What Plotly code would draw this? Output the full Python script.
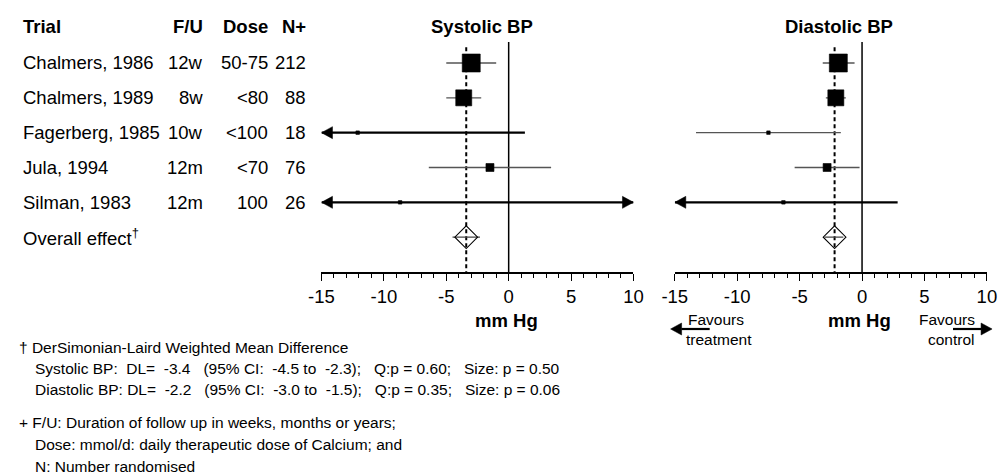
import plotly.graph_objects as go

W, H = 1005, 472

# ---- trial table ----
trials = ["Chalmers, 1986", "Chalmers, 1989", "Fagerberg, 1985", "Jula, 1994", "Silman, 1983"]
follow_up = ["12w", "8w", "10w", "12m", "12m"]
dose = ["50-75", "<80", "<100", "<70", "100"]
n_rand = [212, 88, 18, 76, 26]

# ---- systolic BP: mean difference and 95% CI (mm Hg) ----
sys_md = [-3.0, -3.6, -12.1, -1.5, -8.7]
sys_lo = [-5.0, -5.0, -25.5, -6.4, -28.0]
sys_hi = [-1.0, -2.2, 1.3, 3.4, 10.6]

# ---- diastolic BP: mean difference and 95% CI (mm Hg) ----
dia_md = [-1.9, -2.1, -7.5, -2.8, -6.3]
dia_lo = [-3.15, -2.9, -13.3, -5.4, -15.45]
dia_hi = [-0.6, -1.3, -1.7, -0.2, 2.85]

# ---- pooled DerSimonian-Laird estimates ----
sys_dl, sys_ci_lo, sys_ci_hi, sys_q_p, sys_size_p = -3.4, -4.5, -2.3, 0.60, 0.50
dia_dl, dia_ci_lo, dia_ci_hi, dia_q_p, dia_size_p = -2.2, -3.0, -1.5, 0.35, 0.06

x_ticks = [-15, -10, -5, 0, 5, 10]

# ---- styling ----
X_MIN, X_MAX = -15, 10
sys_box = [18, 16, 3.5, 8, 3.5]   # square side (px), proportional to weight
dia_box = [18, 16, 3.5, 8, 3.5]
FONT = "Liberation Sans, Arial, sans-serif"
BIG = 18.5
SMALL = 15.5


def px_x(p):
    return p / W


def px_y(p):
    return 1 - p / H


fig = go.Figure()
shapes = []
annotations = []

panels = [
    ("x", sys_md, sys_lo, sys_hi, sys_box, sys_dl, sys_ci_lo, sys_ci_hi, "Systolic BP", 480),
    ("x2", dia_md, dia_lo, dia_hi, dia_box, dia_dl, dia_ci_lo, dia_ci_hi, "Diastolic BP", 845),
]

rows = list(range(len(trials)))
overall_row = len(trials)

for xref, md, lo, hi, box, dl, clo, chi, title, title_x in panels:
    # no-effect line
    shapes.append(dict(type="line", xref=xref, yref="y", x0=0, x1=0, y0=-0.6, y1=overall_row + 1,
                       line=dict(color="black", width=1.5), layer="below"))
    # pooled estimate line
    shapes.append(dict(type="line", xref=xref, yref="y", x0=dl, x1=dl, y0=-0.45, y1=overall_row + 1,
                       line=dict(color="black", width=2, dash="4px,3px"), layer="below"))
    for i in rows:
        a = max(lo[i], X_MIN)
        b = min(hi[i], X_MAX)
        clipped = lo[i] < X_MIN or hi[i] > X_MAX
        fig.add_trace(go.Scatter(
            x=[a, b], y=[i, i], xaxis=xref, yaxis="y", mode="lines",
            line=dict(color="black" if clipped else "#555555", width=2.2 if clipped else 1.3),
            hoverinfo="skip", showlegend=False, cliponaxis=False))
        if lo[i] < X_MIN:
            shapes.append(dict(type="path", xref=xref, yref="y", xsizemode="pixel", ysizemode="pixel",
                               xanchor=X_MIN, yanchor=i, path="M0,0 L11,6 L11,-6 Z",
                               fillcolor="black", line=dict(color="black", width=0.5)))
        if hi[i] > X_MAX:
            shapes.append(dict(type="path", xref=xref, yref="y", xsizemode="pixel", ysizemode="pixel",
                               xanchor=X_MAX, yanchor=i, path="M0,0 L-11,6 L-11,-6 Z",
                               fillcolor="black", line=dict(color="black", width=0.5)))
    fig.add_trace(go.Scatter(
        x=md, y=rows, xaxis=xref, yaxis="y", mode="markers",
        marker=dict(symbol="square", size=box, color="black", opacity=1,
                    line=dict(width=0.6, color="black")),
        hoverinfo="skip", showlegend=False, cliponaxis=False))
    # pooled effect: CI line and diamond
    fig.add_trace(go.Scatter(
        x=[clo, chi], y=[overall_row, overall_row], xaxis=xref, yaxis="y", mode="lines",
        line=dict(color="#444444", width=1.3), hoverinfo="skip", showlegend=False))
    fig.add_trace(go.Scatter(
        x=[dl], y=[overall_row], xaxis=xref, yaxis="y", mode="markers",
        marker=dict(symbol="diamond-open", size=17.5, color="black", opacity=1, line=dict(width=1.1)),
        hoverinfo="skip", showlegend=False))
    annotations.append(dict(x=px_x(title_x), y=px_y(27), xref="paper", yref="paper",
                            text=f"<b>{title}</b>", showarrow=False, xanchor="center", yanchor="middle",
                            font=dict(family=FONT, size=BIG, color="black")))
    annotations.append(dict(x=-0.2, y=px_y(320), xref=xref, yref="paper", text="<b>mm Hg</b>",
                            showarrow=False, xanchor="center", yanchor="middle",
                            font=dict(family=FONT, size=BIG, color="black")))


# ---- table text ----
def tab(text, x, y, anchor, bold=False):
    annotations.append(dict(x=px_x(x), y=px_y(y), xref="paper", yref="paper",
                            text=f"<b>{text}</b>" if bold else text, showarrow=False,
                            xanchor=anchor, yanchor="middle",
                            font=dict(family=FONT, size=BIG, color="black")))


ROW_Y = [63, 97.8, 132.6, 167.4, 202.2, 237]
COL_TRIAL, COL_FU, COL_DOSE, COL_N = 8, 196, 263, 302
tab("Trial", COL_TRIAL, 27, "left", True)
tab("F/U", COL_FU, 27, "right", True)
tab("Dose", COL_DOSE, 27, "right", True)
tab("N+", COL_N, 27, "right", True)
for i in rows:
    tab(trials[i], COL_TRIAL, ROW_Y[i], "left")
    tab(follow_up[i], COL_FU, ROW_Y[i], "right")
    tab(dose[i], COL_DOSE, ROW_Y[i], "right")
    tab(str(n_rand[i]), COL_N, ROW_Y[i], "right")
tab("Overall effect<sup>†</sup>", COL_TRIAL, ROW_Y[overall_row], "left")


# ---- favours labels ----
def note(text, x, y, anchor="left", size=SMALL):
    annotations.append(dict(x=px_x(x), y=px_y(y), xref="paper", yref="paper", text=text,
                            showarrow=False, xanchor=anchor, yanchor="middle",
                            font=dict(family=FONT, size=size, color="black")))


note("Favours", 719, 319, "center")
note("treatment", 723, 339, "center")
note("Favours", 956, 319, "center")
note("control", 960, 339, "center")
for x0, x1, tip, path in [(713, 684, 673, "M0,0 L11,6 L11,-6 Z"),
                          (962, 991, 1002, "M0,0 L-11,6 L-11,-6 Z")]:
    shapes.append(dict(type="line", xref="paper", yref="paper", x0=px_x(x0), x1=px_x(x1),
                       y0=px_y(329), y1=px_y(329), line=dict(color="black", width=2.2)))
    shapes.append(dict(type="path", xref="paper", yref="paper", xsizemode="pixel", ysizemode="pixel",
                       xanchor=px_x(tip), yanchor=px_y(329), path=path,
                       fillcolor="black", line=dict(color="black", width=0.5)))

# ---- footnotes ----
NB = "\u00a0"
note("† DerSimonian-Laird Weighted Mean Difference", 4, 347)
for y, label, dl, clo, chi, qp, sp in [
        (368, f"Systolic BP:{NB}{NB}DL={NB}{NB}", sys_dl, sys_ci_lo, sys_ci_hi, sys_q_p, sys_size_p),
        (389, f"Diastolic BP: DL={NB}{NB}", dia_dl, dia_ci_lo, dia_ci_hi, dia_q_p, dia_size_p)]:
    sep = NB * 3
    note(f"{label}{dl:.1f}{sep}(95% CI:{NB}{NB}{clo:.1f} to{NB}{NB}{chi:.1f});{sep}"
         f"Q:p = {qp:.2f};{sep}Size: p = {sp:.2f}", 20, y)
note("+ F/U: Duration of follow up in weeks, months or years;", 4, 422)
note("Dose: mmol/d: daily therapeutic dose of Calcium; and", 20, 444)
note("N: Number randomised", 20, 466)

axis_common = dict(
    range=[X_MIN, X_MAX], tickvals=x_ticks, ticktext=[str(v) for v in x_ticks],
    ticks="outside", ticklen=7, tickwidth=1.3, tickcolor="black",
    showline=True, linecolor="black", linewidth=1.5, showgrid=False, zeroline=False,
    tickfont=dict(family=FONT, size=BIG, color="black"),
    minor=dict(dtick=1, tick0=0, ticks="outside", ticklen=4, tickwidth=1, tickcolor="black", showgrid=False),
    fixedrange=True,
)

fig.update_layout(
    width=W, height=H, margin=dict(l=0, r=0, t=0, b=0),
    paper_bgcolor="white", plot_bgcolor="white", showlegend=False,
    xaxis=dict(domain=[px_x(315.7), px_x(635)], anchor="y", **axis_common),
    xaxis2=dict(domain=[px_x(677.3), px_x(996.7)], anchor="y", **axis_common),
    yaxis=dict(domain=[px_y(272), px_y(42.1)], range=[overall_row + 1, -0.6], visible=False,
               fixedrange=True),
    shapes=shapes, annotations=annotations,
)

fig.write_html("out.html")
